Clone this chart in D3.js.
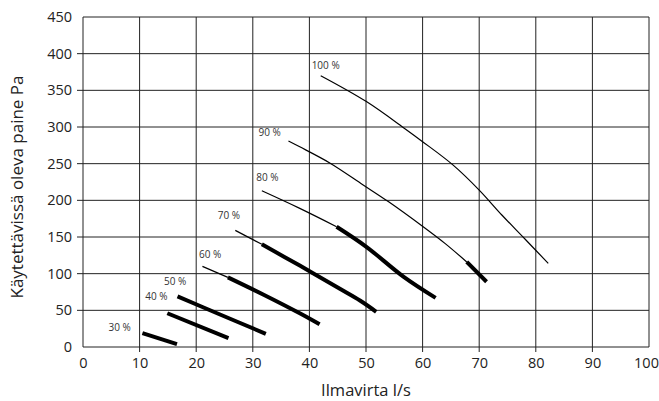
<!DOCTYPE html>
<html>
<head>
<meta charset="utf-8">
<script src="https://cdn.jsdelivr.net/npm/d3@7"></script>
<style>
  body { margin: 0; background: #fff; }
  svg { font-family: "Open Sans", sans-serif; }
</style>
</head>
<body>
<div id="chart"></div>
<script>
var width = 659, height = 401;
var margin = {left: 83, top: 17, right: 10, bottom: 54};

// tick values
var xTicks = [0, 10, 20, 30, 40, 50, 60, 70, 80, 90, 100];
var yTicks = [0, 50, 100, 150, 200, 250, 300, 350, 400, 450];

// curve labels and their anchor (x, y in data units)
var labels = ["30 %", "40 %", "50 %", "60 %", "70 %", "80 %", "90 %", "100 %"];
var labelPos = [[4.5, 22], [11, 64], [14.3, 84], [20.5, 122], [23.8, 175], [30.6, 226], [31, 288], [40.4, 379]];

// thin (outside usable range) parts of curves, [Ilmavirta l/s, Pa]
var thin60 = [[21.1, 110], [25.6, 95]];
var thin70 = [[26.9, 159], [31.6, 140]];
var thin80 = [[31.6, 213], [38.3, 189], [44.8, 164]];
var thin90 = [[36.3, 281], [38.3, 273], [43.6, 251], [49.5, 221], [54, 198], [60.1, 164], [64, 141], [67.8, 116]];
var thin100 = [[42, 370], [50, 335], [57, 297], [60, 280], [65.4, 248], [70, 214], [74, 180], [78, 148], [82.2, 114]];

// thick (usable range) parts
var thick30 = [[10.5, 19], [16.6, 4]];
var thick40 = [[14.9, 46], [25.7, 12]];
var thick50 = [[16.7, 69], [24, 45], [32.3, 18]];
var thick60 = [[25.6, 95], [32, 71], [38.3, 46], [41.8, 31]];
var thick70 = [[31.6, 140], [38.3, 111], [45, 81], [49, 63], [51.8, 48]];
var thick80 = [[44.8, 164], [50, 137], [56.6, 96], [62.3, 67]];
var thick90 = [[67.8, 116], [71.3, 89]];

var thinLines = [thin60, thin70, thin80, thin90, thin100];
var thickLines = [thick30, thick40, thick50, thick60, thick70, thick80, thick90];

var svg = d3.select("#chart").append("svg")
  .attr("width", width)
  .attr("height", height);

var x = d3.scaleLinear().domain([0, 100]).range([margin.left, width - margin.right]);
var y = d3.scaleLinear().domain([0, 450]).range([height - margin.bottom, margin.top]);

// grid, inner lines stick out a little past the axes as ticks
svg.append("g").selectAll("line")
  .data(xTicks)
  .join("line")
  .attr("x1", d => x(d)).attr("x2", d => x(d))
  .attr("y1", d => (d > 0 && d < 100) ? y(0) + 5 : y(0))
  .attr("y2", y(450))
  .attr("stroke", "#222").attr("stroke-width", 1);

svg.append("g").selectAll("line")
  .data(yTicks)
  .join("line")
  .attr("x1", d => (d > 0 && d < 450) ? x(0) - 6 : x(0))
  .attr("x2", x(100))
  .attr("y1", d => y(d)).attr("y2", d => y(d))
  .attr("stroke", "#222").attr("stroke-width", 1);

// axes (labels only, ticks drawn by grid)
var xAxis = svg.append("g")
  .attr("transform", `translate(0,${y(0)})`)
  .call(d3.axisBottom(x).tickValues(xTicks).tickSize(0).tickPadding(11));
var yAxis = svg.append("g")
  .attr("transform", `translate(${x(0)},0)`)
  .call(d3.axisLeft(y).tickValues(yTicks).tickSize(0).tickPadding(11));
[xAxis, yAxis].forEach(function(a) {
  a.select(".domain").remove();
  a.selectAll("text")
    .attr("font-family", "'Open Sans', sans-serif")
    .attr("font-size", 14.5)
    .attr("fill", "#222");
});
// keep "100" inside the page
xAxis.selectAll("text").filter(d => d == 100).attr("dx", -3);

// curves
var line = d3.line().x(d => x(d[0])).y(d => y(d[1])).curve(d3.curveCatmullRom);

svg.append("g").selectAll("path")
  .data(thinLines)
  .join("path")
  .attr("d", line)
  .attr("fill", "none")
  .attr("stroke", "#000")
  .attr("stroke-width", 1.2);

svg.append("g").selectAll("path")
  .data(thickLines)
  .join("path")
  .attr("d", line)
  .attr("fill", "none")
  .attr("stroke", "#000")
  .attr("stroke-width", 4);

// curve labels
svg.append("g").selectAll("text")
  .data(labels)
  .join("text")
  .attr("x", (d, i) => x(labelPos[i][0]))
  .attr("y", (d, i) => y(labelPos[i][1]))
  .attr("font-size", 10)
  .attr("fill", "#333")
  .text(d => d);

// axis titles
svg.append("text")
  .attr("x", x(50))
  .attr("y", 396)
  .attr("text-anchor", "middle")
  .attr("font-size", 16.5)
  .attr("fill", "#222")
  .text("Ilmavirta l/s");

svg.append("text")
  .attr("transform", `translate(23,187) rotate(-90)`)
  .attr("text-anchor", "middle")
  .attr("font-size", 17)
  .attr("fill", "#222")
  .text("Käytettävissä oleva paine Pa");
</script>
</body>
</html>
